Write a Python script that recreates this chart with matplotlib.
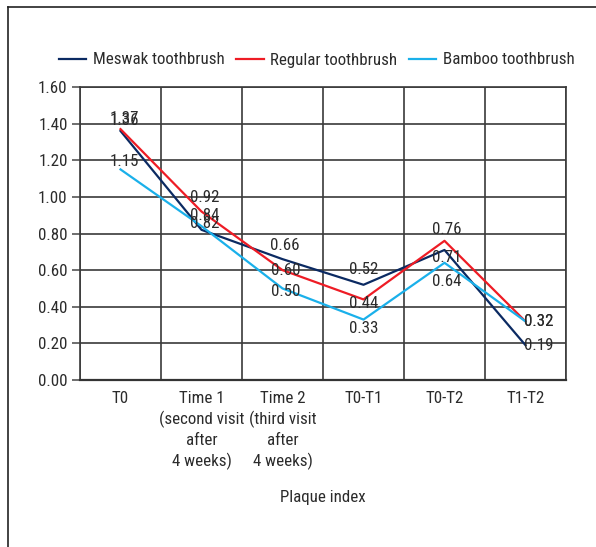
import matplotlib
matplotlib.use("Agg")
import matplotlib.pyplot as plt
from matplotlib import font_manager
from matplotlib.lines import Line2D
import numpy as np

categories = ["T0", "Time 1\n(second visit\nafter\n4 weeks)", "Time 2\n(third visit\nafter\n4 weeks)",
              "T0-T1", "T0-T2", "T1-T2"]
meswak = [1.36, 0.82, 0.66, 0.52, 0.71, 0.19]
regular = [1.37, 0.92, 0.60, 0.44, 0.76, 0.32]
bamboo = [1.15, 0.84, 0.50, 0.33, 0.64, 0.32]
series_names = ["Meswak toothbrush", "Regular toothbrush", "Bamboo toothbrush"]
yticks = [0.0, 0.2, 0.4, 0.6, 0.8, 1.0, 1.2, 1.4, 1.6]

colors = ["#0b2a62", "#ee1c25", "#1ab0ea"]
# label offsets in pixels (dx, dy), one per point of each series
offsets = [
    [(4, 10), (3, 6), (2, 14), (0, 15), (2, -8), (13, 0)],
    [(4, 11), (3, 14), (3, 0), (0, -4), (2, 11), (13, 0)],
    [(4, 8), (3, 11), (3, -3), (0, -9), (2, -19), (13, 0)],
]

# pick a narrow sans face if one is available
fonts = font_manager.fontManager.ttflist
names = {f.name for f in fonts}
family = "DejaVu Sans"
for cand in ["Liberation Sans Narrow", "Roboto Condensed", "Open Sans Condensed",
             "Noto Sans Condensed"]:
    if cand in names:
        family = cand
        break

plt.rcParams['font.family'] = [family, 'DejaVu Sans']
FS = 12.2
TXT = "#2b2b2b"

fig = plt.figure(figsize=(5.96, 5.47), dpi=100)
ax = fig.add_axes([80 / 596, 1 - 380 / 547, 486 / 596, 293 / 547])

x = np.arange(len(categories))
for vals, col, name, offs in zip([meswak, regular, bamboo], colors, series_names, offsets):
    ax.plot(x, vals, color=col, lw=1.6, label=name, zorder=3)
    for xi, v, (dx, dy) in zip(x, vals, offs):
        ax.annotate(f"{v:.2f}", (xi, v), xytext=(dx, dy), textcoords="offset pixels",
                    ha="center", va="center", fontsize=FS, color=TXT, zorder=4)

ax.set_xlim(-0.5, len(categories) - 0.5)
ax.set_ylim(0, 1.6)
ax.set_yticks(yticks)
ax.set_yticklabels([f"{t:.2f}" for t in yticks], fontsize=FS, color=TXT)
ax.set_xticks(x)
ax.set_xticklabels(categories, fontsize=FS, color=TXT, linespacing=1.36)
ax.set_xticks(np.arange(-0.5, len(categories)), minor=True)
ax.tick_params(axis="x", which="both", length=0, pad=8)
ax.tick_params(axis="y", length=6, width=1.2, color="#555555", pad=3)
ax.grid(True, axis="y", which="major", color="#3a3a3a", lw=1.2)
ax.grid(True, axis="x", which="minor", color="#3a3a3a", lw=1.2)
ax.grid(False, axis="x", which="major")
for s in ax.spines.values():
    s.set_color("#3a3a3a")
    s.set_linewidth(1.2)
ax.spines["bottom"].set_linewidth(1.6)
ax.spines["bottom"].set_color("#333333")
ax.set_axisbelow(True)

ax.set_xlabel("Plaque index", fontsize=FS, color=TXT, labelpad=15)

handles = [Line2D([], [], color=c, lw=1.6) for c in colors]
fig.legend(handles, series_names, loc="center", bbox_to_anchor=(317 / 596, 1 - 60 / 547),
           ncol=3, frameon=False, fontsize=FS, handlelength=1.6, handletextpad=0.4,
           columnspacing=0.7, labelcolor=TXT)

# open frame around the chart
fig.add_artist(Line2D([8 / 596, 8 / 596], [0, 1 - 7 / 547], transform=fig.transFigure,
                      color="#222222", lw=1.2))
fig.add_artist(Line2D([8 / 596, 1], [1 - 7 / 547, 1 - 7 / 547], transform=fig.transFigure,
                      color="#222222", lw=1.2))

fig.savefig("out.png", dpi=100)
